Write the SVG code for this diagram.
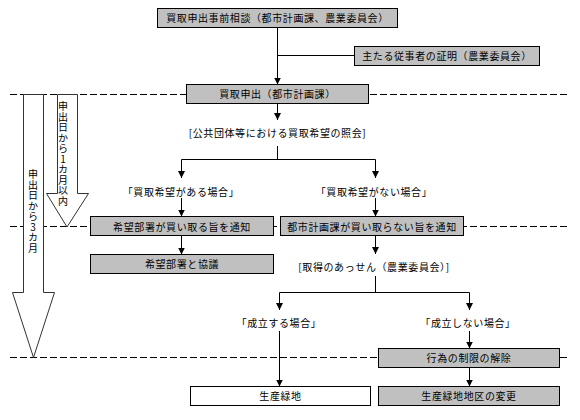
<svg xmlns="http://www.w3.org/2000/svg" width="580" height="420" viewBox="0 0 580 420">
<style>
.bx{fill:#c0c0c0;stroke:#000;stroke-width:1}
.wb{fill:#fff;stroke:#000;stroke-width:1}
.t{font-family:"Noto Sans CJK JP","Noto Sans CJK SC",sans-serif;font-size:10px;letter-spacing:0.6px;fill:#000;text-anchor:middle}
.tv{font-family:"Noto Sans CJK JP","Noto Sans CJK SC",sans-serif;font-size:10px;letter-spacing:0.5px;fill:#000;writing-mode:vertical-rl;text-orientation:upright}
.ln{fill:none;stroke:#000;stroke-width:1}
.da{fill:none;stroke:#000;stroke-width:1;stroke-dasharray:7 3}
.big{fill:#fff;stroke:#333;stroke-width:1}
</style>
<defs>
<marker id="ah" markerWidth="7" markerHeight="7" refX="7" refY="3.5" orient="auto" markerUnits="userSpaceOnUse">
<path d="M0,0 L7,3.5 L0,7 z" fill="#000"/>
</marker>
</defs>
<rect width="580" height="420" fill="#fff"/>
<g id="timelines">
<line class="da" x1="10" y1="94.5" x2="570" y2="94.5"/>
<line class="da" x1="10" y1="226.5" x2="570" y2="226.5"/>
<line class="da" x1="10" y1="357.5" x2="570" y2="357.5"/>
</g>
<g id="arrow-3months">
<polygon class="big" points="23.5,94.5 43.5,94.5 43.5,292.5 54.5,292.5 33.5,357.5 12.5,292.5 23.5,292.5"/>
<text class="tv" x="33" y="169.5">申出日から3カ月</text>
</g>
<g id="arrow-1month">
<polygon class="big" points="57.5,94.5 77.5,94.5 77.5,193.5 88.5,193.5 67,227 46.5,193.5 57.5,193.5"/>
<text class="tv" x="63" y="101.5">申出日から1カ月以内</text>
</g>
<g id="connectors">
<line class="ln" x1="277.5" y1="27.5" x2="277.5" y2="84.5" marker-end="url(#ah)"/>
<line class="ln" x1="277.5" y1="55.5" x2="354.5" y2="55.5"/>
<line class="ln" x1="277.5" y1="103.5" x2="277.5" y2="120" marker-end="url(#ah)"/>
<polyline class="ln" points="277.5,146 277.5,159.5"/>
<line class="ln" x1="181.5" y1="159.5" x2="375.5" y2="159.5"/>
<line class="ln" x1="181.5" y1="159.5" x2="181.5" y2="178" marker-end="url(#ah)"/>
<line class="ln" x1="375.5" y1="159.5" x2="375.5" y2="178" marker-end="url(#ah)"/>
<line class="ln" x1="181.5" y1="198" x2="181.5" y2="216.5" marker-end="url(#ah)"/>
<line class="ln" x1="375.5" y1="198" x2="375.5" y2="216.5" marker-end="url(#ah)"/>
<line class="ln" x1="181.5" y1="235.5" x2="181.5" y2="254.5" marker-end="url(#ah)"/>
<line class="ln" x1="375.5" y1="235.5" x2="375.5" y2="254" marker-end="url(#ah)"/>
<line class="ln" x1="375.5" y1="276" x2="375.5" y2="292.5"/>
<line class="ln" x1="279.5" y1="292.5" x2="469.5" y2="292.5"/>
<line class="ln" x1="279.5" y1="292.5" x2="279.5" y2="310" marker-end="url(#ah)"/>
<line class="ln" x1="469.5" y1="292.5" x2="469.5" y2="310" marker-end="url(#ah)"/>
<line class="ln" x1="279.5" y1="331" x2="279.5" y2="386.5" marker-end="url(#ah)"/>
<line class="ln" x1="469.5" y1="331" x2="469.5" y2="348.5" marker-end="url(#ah)"/>
<line class="ln" x1="469.5" y1="367.5" x2="469.5" y2="386.5" marker-end="url(#ah)"/>
</g>
<g id="n-consult">
<rect class="bx" x="157.5" y="8.5" width="240" height="19"/>
<text class="t" x="277.5" y="21.5">買取申出事前相談（都市計画課、農業委員会）</text>
</g>
<g id="n-certificate">
<rect class="bx" x="354.5" y="46.5" width="185" height="19"/>
<text class="t" x="447" y="59.5">主たる従事者の証明（農業委員会）</text>
</g>
<g id="n-application">
<rect class="bx" x="186.5" y="84.5" width="182" height="19"/>
<text class="t" x="277.5" y="98">買取申出（都市計画課）</text>
</g>
<g id="n-inquiry">
<text class="t" x="277.5" y="136.5">[公共団体等における買取希望の照会]</text>
</g>
<g id="n-case-yes">
<text class="t" x="181" y="195.5">「買取希望がある場合」</text>
</g>
<g id="n-case-no">
<text class="t" x="374" y="195.5">「買取希望がない場合」</text>
</g>
<g id="n-notify-buy">
<rect class="bx" x="90.5" y="216.5" width="183" height="19"/>
<text class="t" x="182" y="230.5">希望部署が買い取る旨を通知</text>
</g>
<g id="n-discuss">
<rect class="bx" x="90.5" y="254.5" width="183" height="19"/>
<text class="t" x="182" y="268">希望部署と協議</text>
</g>
<g id="n-notify-nobuy">
<rect class="bx" x="280.5" y="216.5" width="183" height="19"/>
<text class="t" x="372" y="230.5">都市計画課が買い取らない旨を通知</text>
</g>
<g id="n-mediation">
<text class="t" x="374" y="270.5">[取得のあっせん（農業委員会）]</text>
</g>
<g id="n-success">
<text class="t" x="279" y="327">「成立する場合」</text>
</g>
<g id="n-fail">
<text class="t" x="468" y="327">「成立しない場合」</text>
</g>
<g id="n-release">
<rect class="bx" x="378.5" y="348.5" width="181" height="19"/>
<text class="t" x="469" y="361.5">行為の制限の解除</text>
</g>
<g id="n-green">
<rect class="wb" x="190.5" y="386.5" width="180" height="19"/>
<text class="t" x="280.5" y="399.5">生産緑地</text>
</g>
<g id="n-change">
<rect class="bx" x="378.5" y="386.5" width="181" height="19"/>
<text class="t" x="469" y="399.5">生産緑地地区の変更</text>
</g>
</svg>
